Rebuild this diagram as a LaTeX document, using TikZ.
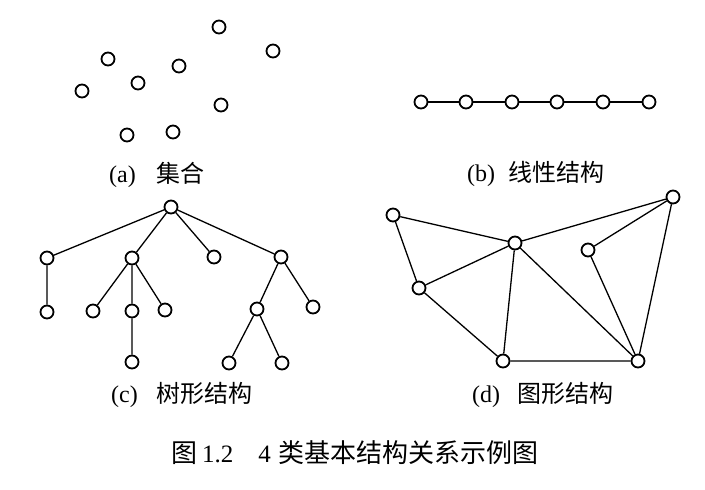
\documentclass[tikz,border=0pt]{standalone}
\usepackage{fontspec}
\setmainfont{Liberation Serif}
\newfontfamily\cjk{Noto Sans CJK SC}
\begin{document}
\begin{tikzpicture}[x=1pt,y=-1pt,
  vtx/.style={circle,draw,line width=1.8pt,minimum size=13pt,inner sep=0pt,fill=white},
  edge/.style={line width=1.3pt},
  sub/.style={anchor=west,font=\fontsize{24}{24}\selectfont,inner sep=0pt},
  maincap/.style={anchor=west,font=\fontsize{25}{26}\selectfont,inner sep=0pt}]
\useasboundingbox (0,0) rectangle (705,490);
% (a) set
\node[vtx] (a1) at (219,27) {};
\node[vtx] (a2) at (273,51) {};
\node[vtx] (a3) at (108,59) {};
\node[vtx] (a4) at (179,66) {};
\node[vtx] (a5) at (138,83) {};
\node[vtx] (a6) at (82,91) {};
\node[vtx] (a7) at (221,105) {};
\node[vtx] (a8) at (127,135) {};
\node[vtx] (a9) at (173,132) {};
\node[sub] (capa) at (109,175) {(a)\hspace{21pt}{\cjk 集合}};
% (b) linear
\foreach \i/\x in {1/421,2/466,3/512,4/557,5/603,6/649}{\node[vtx] (b\i) at (\x,102) {};}
\draw[edge] (b1) -- (b2) -- (b3) -- (b4) -- (b5) -- (b6);
\node[sub] (capb) at (467,174) {(b)\hspace{13pt}{\cjk 线性结构}};
% (c) tree
\node[vtx] (r) at (171,207) {};
\node[vtx] (c1) at (47,258) {};
\node[vtx] (c2) at (132,258) {};
\node[vtx] (c3) at (214,257) {};
\node[vtx] (c4) at (281,257) {};
\node[vtx] (c11) at (47,312) {};
\node[vtx] (c21) at (93,311) {};
\node[vtx] (c22) at (132,311) {};
\node[vtx] (c23) at (165,310) {};
\node[vtx] (c41) at (257,309) {};
\node[vtx] (c42) at (313,307) {};
\node[vtx] (c221) at (132,362) {};
\node[vtx] (c411) at (229,363) {};
\node[vtx] (c412) at (282,363) {};
\draw[edge] (r) -- (c1) (r) -- (c2) (r) -- (c3) (r) -- (c4)
  (c1) -- (c11) (c2) -- (c21) (c2) -- (c22) (c2) -- (c23)
  (c22) -- (c221) (c4) -- (c41) (c4) -- (c42)
  (c41) -- (c411) (c41) -- (c412);
\node[sub] (capc) at (111,395) {(c)\hspace{19pt}{\cjk 树形结构}};
% (d) graph
\node[vtx] (A) at (393,215) {};
\node[vtx] (B) at (515,243) {};
\node[vtx] (C) at (673,197) {};
\node[vtx] (D) at (588,250) {};
\node[vtx] (E) at (419,288) {};
\node[vtx] (F) at (503,361) {};
\node[vtx] (G) at (638,361) {};
\draw[edge] (A) -- (B) (A) -- (E) (B) -- (C) (B) -- (E) (B) -- (F) (B) -- (G)
  (E) -- (F) (F) -- (G) (D) -- (C) (D) -- (G) (C) -- (G);
\node[sub] (capd) at (472,395) {(d)\hspace{17pt}{\cjk 图形结构}};
% main caption
\node[maincap] (main) at (171,453) {{\cjk\fontsize{26}{27}\selectfont 图}\hspace{5pt}1.2\hspace{25pt}4\hspace{8pt}{\cjk\fontsize{26}{27}\selectfont 类基本结构关系示例图}};
\end{tikzpicture}
\end{document}
